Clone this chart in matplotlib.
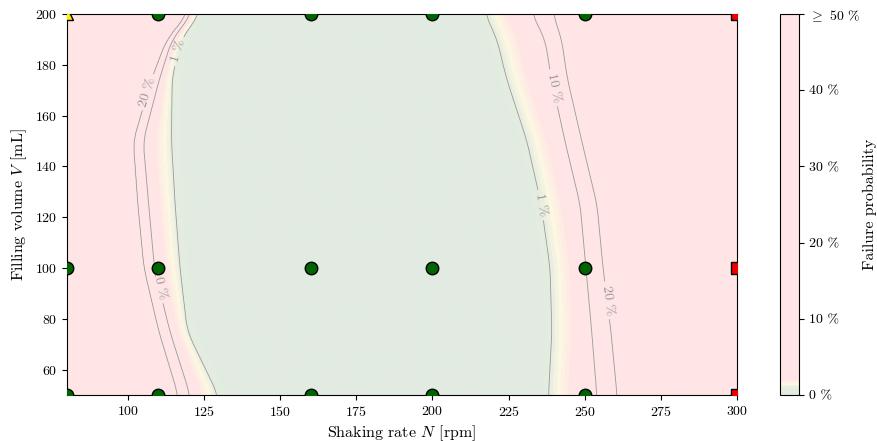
#!/usr/bin/env python3

# plot.py - failure probability map for shaking rate vs filling volume

import numpy as np
import matplotlib
matplotlib.use('Agg')
import matplotlib.pyplot as plt
from matplotlib.colors import LinearSegmentedColormap

plt.rcParams['font.family'] = 'serif'
plt.rcParams['font.serif'] = ['cmr10']
plt.rcParams['mathtext.fontset'] = 'cm'
plt.rcParams['axes.formatter.use_mathtext'] = True
plt.rcParams['axes.unicode_minus'] = False

# contour positions (shaking rate N) read per filling volume row
v_rows = [50, 75, 100, 125, 150, 175, 190, 200]
left_20 = [116.5, 110.2, 105.3, 103.3, 101.8, 108.0, 112.8, 119.7]
left_10 = [120.4, 113.8, 108.7, 106.8, 105.0, 110.5, 114.5, 121.0]
left_1 = [129.6, 119.5, 117.1, 115.5, 114.3, 114.5, 117.4, 123.5]
right_1 = [238.1, 239.2, 238.6, 235.7, 231.0, 224.2, 221.2, 217.3]
right_10 = [254.0, 252.3, 250.4, 248.5, 243.5, 239.0, 237.0, 232.7]
right_20 = [260.6, 258.6, 256.0, 254.0, 249.0, 244.2, 242.4, 239.6]

# experiments
ok_N = [80, 80, 110, 110, 110, 160, 160, 160, 200, 200, 200, 250, 250, 250]
ok_V = [50, 100, 50, 100, 200, 50, 100, 200, 50, 100, 200, 50, 100, 200]
fail_N = [300, 300, 300]
fail_V = [50, 100, 200]
partial_N = [80]
partial_V = [200]

levels = [1, 10, 20]
cbar_ticks = [0, 10, 20, 30, 40, 50]
cbar_labels = ['0 %', '10 %', '20 %', '30 %', '40 %', r'$\geq$ 50 %']


def smooth_row(v_grid, vals, width=25):
    # linear interpolation of the read values, then a moving average
    y = np.interp(v_grid, v_rows, vals)
    pad = width // 2
    yp = np.pad(y, pad, mode='edge')
    kernel = np.ones(width) / width
    return np.convolve(yp, kernel, mode='valid')


def build_field(n_grid, v_grid):
    l20 = smooth_row(v_grid, left_20)
    l10 = smooth_row(v_grid, left_10)
    l1 = smooth_row(v_grid, left_1)
    r1 = smooth_row(v_grid, right_1)
    r10 = smooth_row(v_grid, right_10)
    r20 = smooth_row(v_grid, right_20)
    field = np.zeros((len(v_grid), len(n_grid)))
    for i in range(len(v_grid)):
        dl = min(6.5, 0.6 * (l1[i] - l10[i]))
        dr = min(6.5, 0.6 * (r10[i] - r1[i]))
        xs = [l20[i] - 20, l20[i], l10[i], l1[i] - dl, l1[i], l1[i] + 6,
              r1[i] - 6, r1[i], r1[i] + dr, r10[i], r20[i], r20[i] + 20]
        ps = [50, 20, 10, 2, 1, 0, 0, 1, 2, 10, 20, 50]
        field[i] = np.interp(n_grid, xs, ps)
    return field


def main():
    n_grid = np.linspace(80, 300, 660)
    v_grid = np.linspace(50, 200, 380)
    prob = build_field(n_grid, v_grid)

    cmap = LinearSegmentedColormap.from_list('fail', [
        (0.0, '#e2ebe1'), (0.018, '#e5ede0'), (0.027, '#fdf8e2'),
        (0.04, '#ffe5e5'), (1.0, '#ffe5e5')])

    fig = plt.figure(figsize=(8.77, 4.41), dpi=100)
    ax = fig.add_axes([0.0764, 0.1043, 0.764, 0.864])
    cax = fig.add_axes([0.8894, 0.1043, 0.0217, 0.864])

    im = ax.imshow(prob, extent=[80, 300, 50, 200], origin='lower',
                   aspect='auto', cmap=cmap, vmin=0, vmax=50,
                   interpolation='bilinear')
    cs = ax.contour(n_grid, v_grid, prob, levels=levels, colors='#9a9a9a',
                    linewidths=0.6)
    ax.clabel(cs, fmt=lambda v: f'{v:.0f} %', fontsize=10, colors='#9a9a9a',
              inline=True, inline_spacing=4,
              manual=[(106.3, 169.3), (117.4, 185), (109.9, 93.3),
                      (239.6, 170.9), (235.7, 124.8), (258.3, 87.4)])

    ax.plot(ok_N, ok_V, 'o', ms=9, mfc='#006400', mec='black', mew=1, zorder=5)
    ax.plot(fail_N, fail_V, 's', ms=9, mfc='#ee0000', mec='black', mew=1, zorder=5)
    ax.plot(partial_N, partial_V, '^', ms=9, mfc='#ffee00', mec='black', mew=1, zorder=5)

    ax.set_xlim(80, 300)
    ax.set_ylim(50, 200)
    ax.set_xticks([100, 125, 150, 175, 200, 225, 250, 275, 300])
    ax.set_yticks([60, 80, 100, 120, 140, 160, 180, 200])
    ax.tick_params(labelsize=10)
    ax.set_xlabel(r'Shaking rate $N$ [rpm]', fontsize=11.5, labelpad=3)
    ax.set_ylabel(r'Filling volume $V$ [mL]', fontsize=11.5)

    cb = fig.colorbar(im, cax=cax, ticks=cbar_ticks)
    cb.ax.set_yticklabels(cbar_labels)
    cb.ax.tick_params(labelsize=10)
    cb.set_label('Failure probability', fontsize=11.5, labelpad=2)

    fig.savefig('out.png', dpi=100)


if __name__ == "__main__":
    main()
